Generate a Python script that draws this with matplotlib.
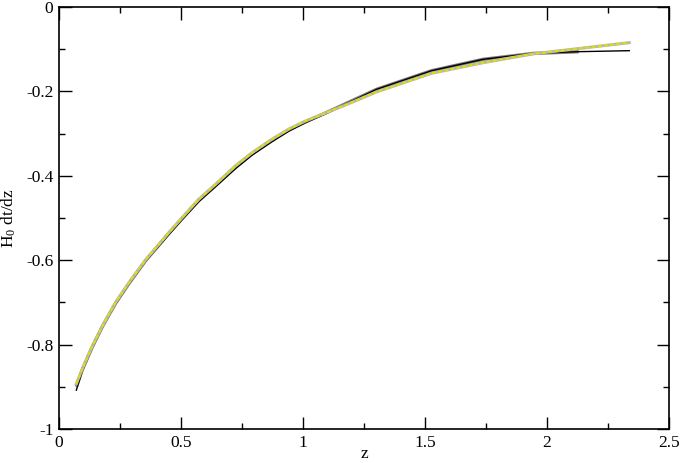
import matplotlib
matplotlib.use("Agg")
import matplotlib.pyplot as plt
from matplotlib.ticker import MultipleLocator

plt.rcParams['font.family'] = ['Liberation Serif', 'DejaVu Serif']
plt.rcParams['mathtext.fontset'] = 'custom'
plt.rcParams['mathtext.rm'] = 'Liberation Serif'
plt.rcParams['mathtext.it'] = 'Liberation Serif:italic'
plt.rcParams['axes.unicode_minus'] = False

# Yellow (dashed) curve
z_yellow = [0.071, 0.096, 0.137, 0.178, 0.232, 0.287, 0.355, 0.410, 0.451, 0.505,
            0.574, 0.642, 0.724, 0.792, 0.874, 0.943, 1.011, 1.093, 1.175, 1.302,
            1.527, 1.738, 1.943, 2.337]
y_yellow = [-0.893, -0.857, -0.803, -0.756, -0.700, -0.653, -0.599, -0.562, -0.534, -0.499,
            -0.455, -0.420, -0.376, -0.345, -0.313, -0.289, -0.270, -0.251, -0.232, -0.201,
            -0.157, -0.132, -0.111, -0.0845]

# Black (thin) curve
z_black = [0.071, 0.096, 0.137, 0.178, 0.232, 0.287, 0.355, 0.410, 0.451, 0.505,
           0.574, 0.642, 0.724, 0.792, 0.874, 0.943, 1.011, 1.093, 1.175, 1.302,
           1.527, 1.738, 1.943, 2.12, 2.337]
y_black = [-0.908, -0.862, -0.806, -0.759, -0.703, -0.656, -0.602, -0.566, -0.539, -0.504,
           -0.461, -0.426, -0.383, -0.351, -0.319, -0.294, -0.274, -0.253, -0.230, -0.195,
           -0.151, -0.124, -0.110, -0.106, -0.1035]

# Gray (thick) curve
z_gray = [0.071, 0.096, 0.137, 0.178, 0.232, 0.287, 0.355, 0.410, 0.451, 0.505,
          0.574, 0.642, 0.724, 0.792, 0.874, 0.943, 1.011, 1.093, 1.175, 1.302,
          1.527, 1.738, 1.943, 2.13]
y_gray = [-0.900, -0.859, -0.805, -0.757, -0.702, -0.655, -0.601, -0.564, -0.536, -0.501,
          -0.457, -0.422, -0.378, -0.347, -0.315, -0.291, -0.272, -0.251, -0.229, -0.195,
          -0.151, -0.124, -0.110, -0.106]

x_ticks = [0, 0.5, 1, 1.5, 2, 2.5]
x_ticklabels = ['0', '0.5', '1', '1.5', '2', '2.5']
y_ticks = [-1, -0.8, -0.6, -0.4, -0.2, 0]
y_ticklabels = ['-1', '-0.8', '-0.6', '-0.4', '-0.2', '0']

fig = plt.figure(figsize=(6.81, 4.63), dpi=100)
ax = fig.add_axes([59/681, (463-429)/463, 610/681, 422/463])

ax.plot(z_gray, y_gray, color='#7a7a7a', lw=2.4, solid_capstyle='butt', zorder=2)
ax.plot(z_black, y_black, color='black', lw=1.0, zorder=3)
ax.plot(z_yellow, y_yellow, color='#b8b8a8', lw=2.2, zorder=4)
ax.plot(z_yellow, y_yellow, color='#e0e000', lw=1.4, dashes=(2, 1.2), zorder=5)

ax.set_xlim(0, 2.5)
ax.set_ylim(-1, 0)
ax.set_xticks(x_ticks)
ax.set_xticklabels(x_ticklabels)
ax.set_yticks(y_ticks)
ax.set_yticklabels(y_ticklabels)
ax.xaxis.set_minor_locator(MultipleLocator(0.25))
ax.yaxis.set_minor_locator(MultipleLocator(0.1))
ax.tick_params(which='both', direction='in', top=True, right=True, labelsize=12.5, width=1.0)
ax.tick_params(which='major', length=9, pad=4)
ax.tick_params(which='minor', length=4.5)
for s in ax.spines.values():
    s.set_linewidth(1.2)

ax.set_xlabel('z', fontsize=12.5, labelpad=-3)
ax.set_ylabel('H$_0$ dt/dz', fontsize=12.5, labelpad=6)

fig.savefig('out.png', dpi=100)
